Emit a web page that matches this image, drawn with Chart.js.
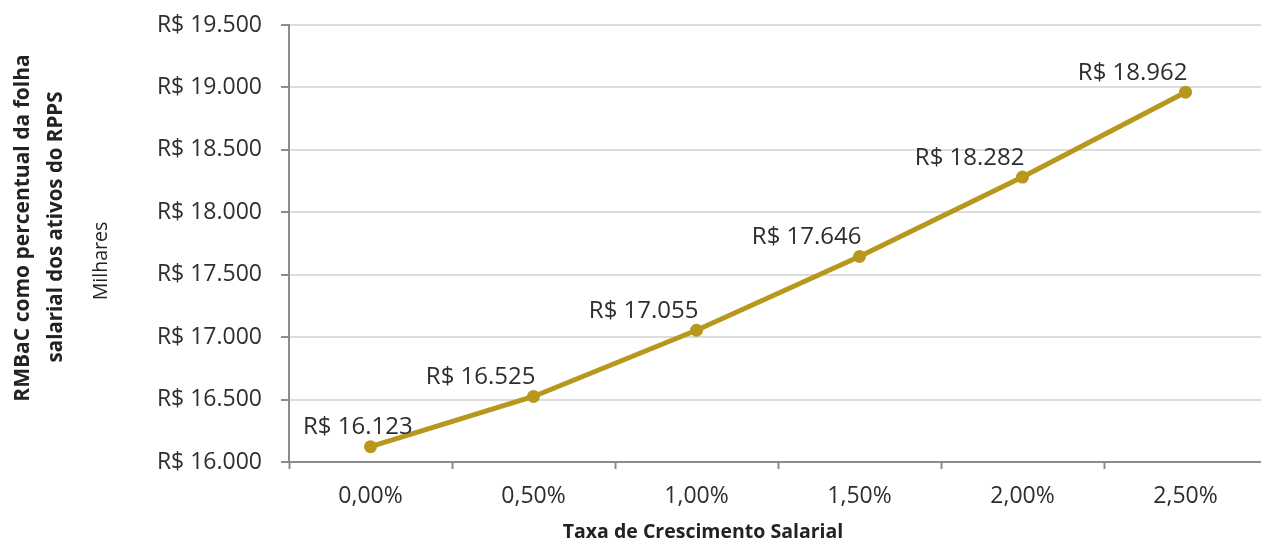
<!DOCTYPE html>
<html>
<head>
<meta charset="utf-8">
<script src="https://cdn.jsdelivr.net/npm/chart.js@4/dist/chart.umd.min.js"></script>
<style>
  html, body { margin: 0; padding: 0; overflow: hidden; background: #fff; }
  #wrap { width: 1267px; height: 545px; position: relative; }
</style>
</head>
<body>
<div id="wrap"><canvas id="chart"></canvas></div>
<script>
const categories = ['0,00%', '0,50%', '1,00%', '1,50%', '2,00%', '2,50%'];
const rmbacValues = [16123, 16525, 17055, 17646, 18282, 18962];
const yMin = 16000;
const yMax = 19500;
const yStep = 500;
const yTitleLines = ['RMBaC como percentual da folha', 'salarial dos ativos do RPPS'];
const yUnitLabel = 'Milhares';
const xTitle = 'Taxa de Crescimento Salarial';

const LINE_COLOR = '#B7981C';
const AXIS_COLOR = '#8c8c8c';
const GRID_COLOR = '#dcdcdc';
const TEXT_COLOR = '#2e2e2e';

Chart.defaults.font.family = '"Open Sans", sans-serif';

function formatReais(v) {
  return 'R$ ' + String(v).replace(/\B(?=(\d{3})+(?!\d))/g, '.');
}

// value labels, right-aligned to the point, kept inside the plot area
const pointLabels = {
  id: 'pointLabels',
  afterDatasetsDraw(chart) {
    const { ctx, chartArea } = chart;
    const meta = chart.getDatasetMeta(0);
    ctx.save();
    ctx.font = '24px "Open Sans"';
    ctx.fillStyle = TEXT_COLOR;
    ctx.textBaseline = 'middle';
    ctx.textAlign = 'left';
    meta.data.forEach((pt, i) => {
      const text = formatReais(rmbacValues[i]);
      const w = ctx.measureText(text).width;
      const x = Math.max(pt.x + 2 - w, chartArea.left + 14);
      ctx.fillText(text, x, pt.y - 19);
    });
    ctx.restore();
  },
};

// axis titles as Excel placed them
const axisTitles = {
  id: 'axisTitles',
  afterDraw(chart) {
    const { ctx } = chart;
    ctx.save();
    ctx.fillStyle = '#222222';
    ctx.textAlign = 'center';
    ctx.textBaseline = 'middle';

    const rotated = (text, x, y, font) => {
      ctx.save();
      ctx.translate(x, y);
      ctx.rotate(-Math.PI / 2);
      ctx.font = font;
      ctx.fillText(text, 0, 0);
      ctx.restore();
    };
    rotated(yTitleLines[0], 23, 228, 'bold 21px "Open Sans"');
    rotated(yTitleLines[1], 56, 227, 'bold 20.5px "Open Sans"');
    rotated(yUnitLabel, 101, 261, '19.5px "Open Sans"');

    ctx.font = 'bold 19.5px "Open Sans"';
    ctx.fillText(xTitle, 703, 532);
    ctx.restore();
  },
};

new Chart(document.getElementById('chart'), {
  type: 'line',
  data: {
    labels: categories,
    datasets: [
      {
        data: rmbacValues,
        borderColor: LINE_COLOR,
        backgroundColor: LINE_COLOR,
        borderWidth: 5,
        pointRadius: 6.5,
        pointHoverRadius: 6.5,
        pointBackgroundColor: LINE_COLOR,
        pointBorderColor: LINE_COLOR,
        pointBorderWidth: 0,
        tension: 0,
      },
    ],
  },
  options: {
    responsive: true,
    maintainAspectRatio: false,
    animation: false,
    layout: { autoPadding: false, padding: { top: 25, left: 0, right: 0, bottom: 0 } },
    plugins: {
      legend: { display: false },
      tooltip: { enabled: false },
    },
    scales: {
      x: {
        offset: true,
        grid: {
          display: true,
          offset: true,
          drawOnChartArea: false,
          drawTicks: true,
          tickLength: 7,
          tickColor: AXIS_COLOR,
          tickWidth: 2,
        },
        border: { color: AXIS_COLOR, width: 2 },
        ticks: {
          color: TEXT_COLOR,
          font: { size: 23 },
          padding: 14,
          maxRotation: 0,
        },
        afterFit(scale) {
          scale.height = 83;
        },
      },
      y: {
        min: yMin,
        max: yMax,
        grid: {
          color: GRID_COLOR,
          lineWidth: 2,
          tickLength: 8,
          tickColor: AXIS_COLOR,
          tickWidth: 2,
        },
        border: { color: AXIS_COLOR, width: 2 },
        ticks: {
          stepSize: yStep,
          color: TEXT_COLOR,
          font: { size: 23 },
          padding: 19,
          callback: (v) => formatReais(v),
        },
        afterFit(scale) {
          scale.width = 289;
          scale.paddingTop = 14;
          scale.paddingBottom = 14;
        },
      },
    },
  },
  plugins: [pointLabels, axisTitles],
});
</script>
</body>
</html>
